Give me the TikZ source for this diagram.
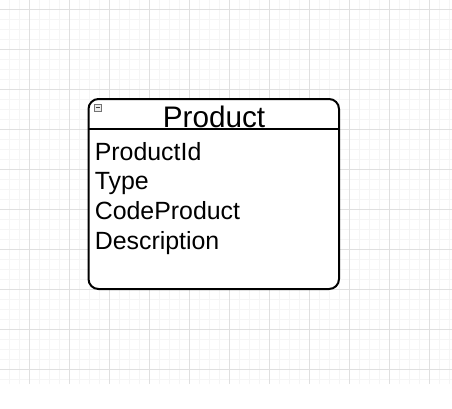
\documentclass[tikz,border=0pt]{standalone}
\usepackage{fontspec}
\setmainfont{Liberation Sans}
\begin{document}
\begin{tikzpicture}[x=1pt,y=-1pt]
        \tikzset{attr/.style={anchor=base west,inner sep=0pt,font=\fontsize{24.9}{28}\selectfont}}

        \useasboundingbox (0,0) rectangle (452,408);
        % background grid
        \draw[line width=0.8pt,black!4,shift={(9.3,9.3)}] (-9.3,-9.3) grid[step=10pt] (442.7,374.2);
        \foreach \x in {29.3,69.3,...,449} \draw[line width=0.8pt,black!12] (\x,0) -- (\x,383.5);
        \foreach \y in {9.3,49.3,...,369.3} \draw[line width=0.8pt,black!12] (0,\y) -- (452,\y);

        \node[draw,line width=2pt,rounded corners=10pt,fill=white,minimum width=250.5pt,minimum height=190pt] (entity) at (213.75,194) {};
        \coordinate (header) at (0,129);
        \draw[line width=1.6pt] (entity.west |- header) -- (entity.east |- header);

        \node[draw=black!55,fill=black!8,line width=0.7pt,minimum size=7pt,inner sep=0pt] (collapse) at (97.8,107.8) {};
        \draw[line width=1pt,black!75] ([xshift=1.7pt]collapse.west) -- ([xshift=-1.7pt]collapse.east);

        \node[anchor=base,inner sep=0pt,font=\fontsize{29.7}{34}\selectfont] (title) at (214,127.6) {Product};

        \node[attr] (productid) at (94.6,160) {ProductId};
        \node[attr] (type) at (94.6,189.8) {Type};
        \node[attr] (codeproduct) at (94.6,219.6) {CodeProduct};
        \node[attr] (description) at (94.6,249.4) {Description};
    \end{tikzpicture}
\end{document}
